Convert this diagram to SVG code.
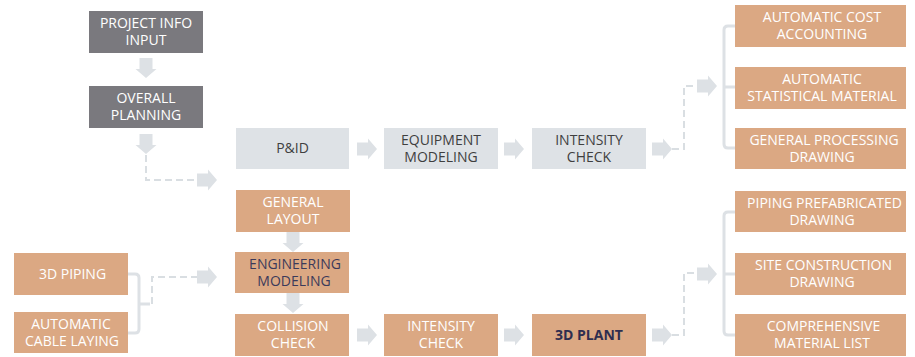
<svg xmlns="http://www.w3.org/2000/svg" xmlns:xlink="http://www.w3.org/1999/xlink" width="915" height="357" viewBox="0 0 915 357">
<style>
text{font-family:"Open Sans","Noto Sans","Liberation Sans",sans-serif;font-size:14px;text-anchor:middle}
.dk{fill:#7a797e}
.lt{fill:#dee2e6}
.tn{fill:#dba883}
.w{fill:#ffffff}
.g{fill:#3f3f3f}
.nv{fill:#3b3a5a}
.b{font-weight:bold;fill:#2e2d4f}
.arr{fill:#dde1e5}
.dash{fill:none;stroke:#d9dee2;stroke-width:2;stroke-dasharray:7 4}
.br{fill:none;stroke:#dde1e5;stroke-width:3;stroke-linejoin:round}
</style>
<defs>
<path id="ar" d="M0,-6.5 H11 V-10.5 L20,0 L11,10.5 V6.5 H0 Z"/>
</defs>
<g id="connectors">
<use xlink:href="#ar" class="arr" transform="translate(146,58) rotate(90)"/>
<use xlink:href="#ar" class="arr" transform="translate(146,134) rotate(90)"/>
<path class="dash" d="M146,155 V180 H197"/>
<use xlink:href="#ar" class="arr" transform="translate(197,180)"/>
<use xlink:href="#ar" class="arr" transform="translate(357,149)"/>
<use xlink:href="#ar" class="arr" transform="translate(504,149)"/>
<use xlink:href="#ar" class="arr" transform="translate(652,149)"/>
<path class="dash" d="M672,149 H684 V86 H697"/>
<use xlink:href="#ar" class="arr" transform="translate(697,86)"/>
<path class="br" d="M735,26 H728 Q724,26 724,30 V144 Q724,148 728,148 H735 M724,87 H735"/>
<use xlink:href="#ar" class="arr" transform="translate(293,232) rotate(90)"/>
<use xlink:href="#ar" class="arr" transform="translate(293,293) rotate(90)"/>
<path class="br" d="M128,274 H135 Q139,274 139,278 V329 Q139,333 135,333 H128 M139,304 H150"/>
<path class="dash" d="M152,304 V277 H197"/>
<use xlink:href="#ar" class="arr" transform="translate(197,277)"/>
<use xlink:href="#ar" class="arr" transform="translate(357,335)"/>
<use xlink:href="#ar" class="arr" transform="translate(504,335)"/>
<use xlink:href="#ar" class="arr" transform="translate(652,335)"/>
<path class="dash" d="M672,335 H684 V273 H697"/>
<use xlink:href="#ar" class="arr" transform="translate(697,274)"/>
<path class="br" d="M735,212 H728 Q724,212 724,216 V331 Q724,335 728,335 H735 M724,274 H735"/>
</g>
<g id="n-project-info">
<rect class="dk" x="89" y="11" width="114" height="42"/>
<text class="w"><tspan x="146" y="28">PROJECT INFO</tspan><tspan x="146" y="45">INPUT</tspan></text>
</g>
<g id="n-overall-planning">
<rect class="dk" x="89" y="86" width="114" height="42"/>
<text class="w"><tspan x="146" y="103">OVERALL</tspan><tspan x="146" y="120">PLANNING</tspan></text>
</g>
<g id="n-pid">
<rect class="lt" x="236" y="128" width="113" height="41"/>
<text class="g" x="292.5" y="153">P&amp;ID</text>
</g>
<g id="n-equipment-modeling">
<rect class="lt" x="384" y="128" width="114" height="41"/>
<text class="g"><tspan x="441" y="144.5">EQUIPMENT</tspan><tspan x="441" y="161.5">MODELING</tspan></text>
</g>
<g id="n-intensity-check-top">
<rect class="lt" x="532" y="128" width="114" height="41"/>
<text class="g"><tspan x="589" y="144.5">INTENSITY</tspan><tspan x="589" y="161.5">CHECK</tspan></text>
</g>
<g id="n-auto-cost">
<rect class="tn" x="735" y="5" width="171" height="42"/>
<text class="w"><tspan x="822" y="22">AUTOMATIC COST</tspan><tspan x="822" y="39">ACCOUNTING</tspan></text>
</g>
<g id="n-auto-stat">
<rect class="tn" x="735" y="67" width="171" height="42"/>
<text class="w"><tspan x="822" y="84">AUTOMATIC</tspan><tspan x="822" y="101">STATISTICAL MATERIAL</tspan></text>
</g>
<g id="n-general-processing">
<rect class="tn" x="735" y="128" width="171" height="41"/>
<text class="w"><tspan x="824" y="144.5">GENERAL PROCESSING</tspan><tspan x="822" y="161.5">DRAWING</tspan></text>
</g>
<g id="n-general-layout">
<rect class="tn" x="236" y="190" width="114" height="42"/>
<text class="w"><tspan x="293" y="207">GENERAL</tspan><tspan x="293" y="224">LAYOUT</tspan></text>
</g>
<g id="n-engineering-modeling">
<rect class="tn" x="235" y="252" width="114" height="41"/>
<text class="nv"><tspan x="295" y="268.5">ENGINEERING</tspan><tspan x="294" y="285.5">MODELING</tspan></text>
</g>
<g id="n-collision-check">
<rect class="tn" x="235" y="314" width="114" height="42"/>
<text class="w"><tspan x="293" y="331">COLLISION</tspan><tspan x="293" y="348">CHECK</tspan></text>
</g>
<g id="n-3d-piping">
<rect class="tn" x="14" y="253" width="114" height="42"/>
<text class="w" x="72.5" y="279">3D PIPING</text>
</g>
<g id="n-auto-cable">
<rect class="tn" x="14" y="312" width="114" height="41"/>
<text class="w"><tspan x="71" y="328.5">AUTOMATIC</tspan><tspan x="72" y="345.5">CABLE LAYING</tspan></text>
</g>
<g id="n-intensity-check-bottom">
<rect class="tn" x="384" y="314" width="114" height="42"/>
<text class="w"><tspan x="441" y="331">INTENSITY</tspan><tspan x="441" y="348">CHECK</tspan></text>
</g>
<g id="n-3d-plant">
<rect class="tn" x="532" y="314" width="114" height="42"/>
<text class="b" x="589" y="340">3D PLANT</text>
</g>
<g id="n-piping-prefab">
<rect class="tn" x="735" y="191" width="171" height="41"/>
<text class="w"><tspan x="824.5" y="207.5">PIPING PREFABRICATED</tspan><tspan x="822" y="224.5">DRAWING</tspan></text>
</g>
<g id="n-site-construction">
<rect class="tn" x="735" y="253" width="171" height="42"/>
<text class="w"><tspan x="823.5" y="270">SITE CONSTRUCTION</tspan><tspan x="822" y="287">DRAWING</tspan></text>
</g>
<g id="n-comprehensive">
<rect class="tn" x="735" y="314" width="171" height="42"/>
<text class="w"><tspan x="823.5" y="331">COMPREHENSIVE</tspan><tspan x="822" y="348">MATERIAL LIST</tspan></text>
</g>
</svg>
